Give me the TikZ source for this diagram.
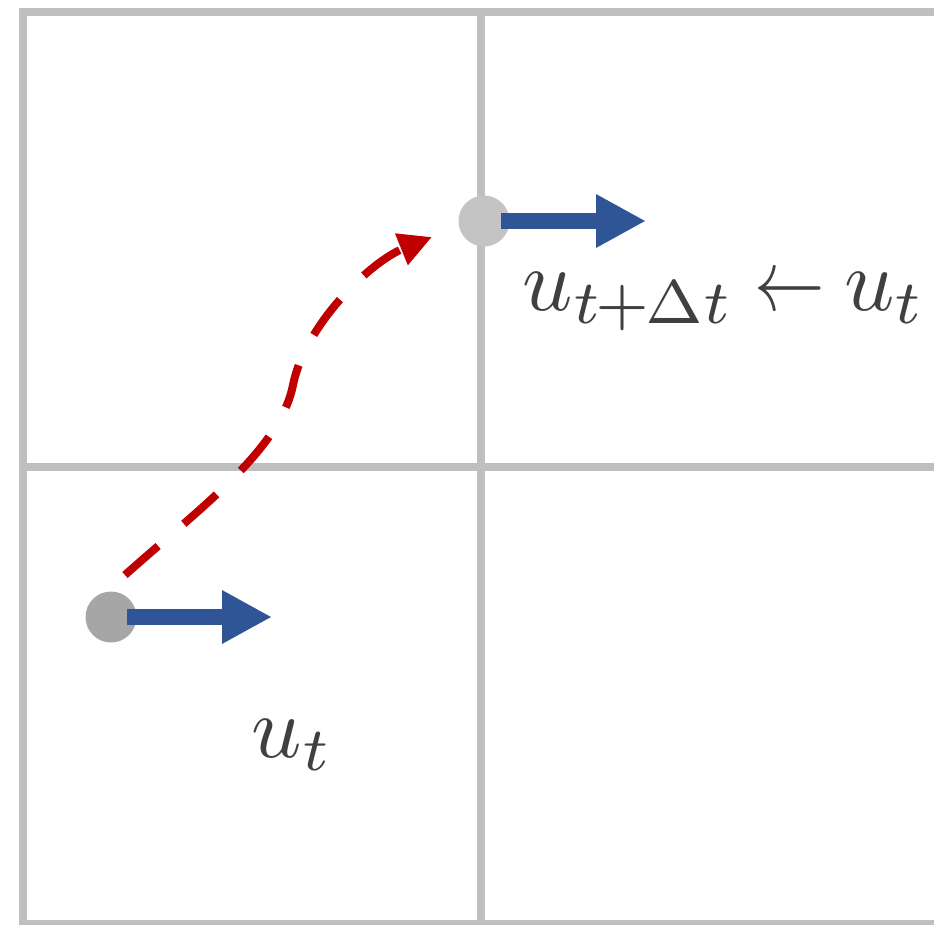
\documentclass[tikz,border=0pt]{standalone}
\usetikzlibrary{arrows.meta}
\definecolor{gridgray}{HTML}{BFBFBF}
\definecolor{dotlight}{HTML}{C4C4C4}
\definecolor{dotdark}{HTML}{A6A6A6}
\definecolor{velblue}{HTML}{2F5597}
\definecolor{trajred}{HTML}{C00000}
\definecolor{textgray}{HTML}{404040}
\newcommand{\narrowleft}{\mathrel{\scalebox{0.8}[1]{$\leftarrow$}}}
\begin{document}
\begin{tikzpicture}[x=1pt,y=-1pt,
  gridline/.style={draw=gridgray,line width=8pt},
  dot/.style={circle,inner sep=0pt,minimum size=51pt,draw=none},
  vel/.style={draw=velblue,line width=16pt,-{Triangle[length=50pt,width=50pt]}},
  traj/.style={draw=trajred,line width=8pt,dash pattern=on 44pt off 34pt,-{Triangle[length=33pt,width=32pt]}},
  lab/.style={inner sep=0pt,text=textgray,font=\normalsize,scale=8.8}]
\useasboundingbox (0,0) rectangle (934,925);
\clip (0,0) rectangle (934,925);
% grid
\draw[gridline] (23,12) rectangle (939,924);
\draw[gridline] (481,12) -- (481,924);
\draw[gridline] (23,467) -- (939,467);
% trajectory
\coordinate (cs) at (125,575);
\coordinate (cm) at (293,385);
\coordinate (ce) at (432,237);
\draw[traj] (cs) .. controls (200,508) and (280,450) .. (cm) .. controls (305,325) and (370,262) .. (ce);
% particles
\node[dot,fill=dotlight] (p2) at (484,221) {};
\node[dot,fill=dotdark] (p1) at (111,617) {};
\coordinate (v1) at (272,617);
\coordinate (v2) at (646,221);
\draw[vel] ([xshift=16pt]p1.center) -- (v1);
\draw[vel] ([xshift=17pt]p2.center) -- (v2);
% labels
\node[lab,anchor=base west] (l2) at (521,310) {$u_{t\mkern-1mu+\mkern-1mu\Delta t}\mkern-1mu\narrowleft\mkern-1mu u_t$};
\node[lab,anchor=base west] (l1) at (250,757) {$u_t$};
\end{tikzpicture}
\end{document}
